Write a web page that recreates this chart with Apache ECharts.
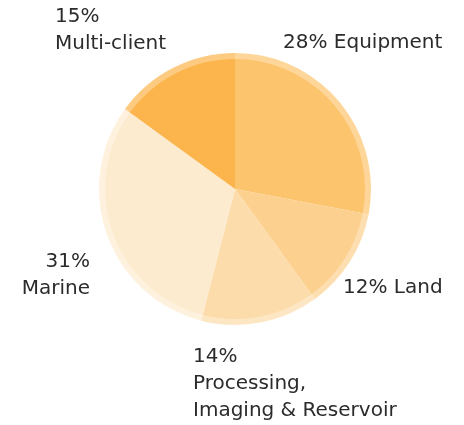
<!DOCTYPE html>
<html>
<head>
<meta charset="utf-8">
<script src="https://cdn.jsdelivr.net/npm/echarts@6/dist/echarts.min.js"></script>
<style>
  html, body { margin: 0; padding: 0; background: #fff; }
  #main { width: 464px; height: 425px; }
</style>
</head>
<body>
<div id="main"></div>
<script>
// segment names and shares (%)
const names = ['Equipment', 'Land', 'Processing,\nImaging & Reservoir', 'Marine', 'Multi-client'];
const shares = [28, 12, 14, 31, 15];
// label text pattern: inline or value on its own line
const inline = [true, true, false, false, false];

const colors = ['#fdc46e', '#fcd08e', '#fcdcaa', '#fdebd0', '#fbb54c'];

// where each label sits (left/right anchor, middle of block)
const labelSpots = [
  { x: 283, y: 43, align: 'left' },
  { x: 343, y: 288, align: 'left' },
  { x: 193, y: 384, align: 'left' },
  { x: 90, y: 275, align: 'right' },
  { x: 55, y: 30, align: 'left' }
];

const chart = echarts.init(document.getElementById('main'));

const pieData = names.map((n, i) => ({ name: n, value: shares[i], itemStyle: { color: colors[i] } }));

const option = {
  animation: false,
  series: [
    {
      type: 'pie',
      center: [235, 189],
      radius: [128, 136],
      startAngle: 90,
      silent: true,
      itemStyle: { opacity: 0.7 },
      label: { show: false },
      labelLine: { show: false },
      data: pieData
    },
    {
      type: 'pie',
      center: [235, 189],
      radius: [0, 130],
      startAngle: 90,
      silent: true,
      label: {
        show: true,
        position: 'outside',
        alignTo: 'none',
        overflow: 'none',
        width: 300,
        color: '#2b2b2b',
        fontFamily: 'DejaVu Sans',
        fontSize: 20,
        lineHeight: 27,
        formatter: p => inline[p.dataIndex] ? p.value + '% ' + p.name : p.value + '%\n' + p.name
      },
      labelLine: { show: false },
      labelLayout: p => {
        const s = labelSpots[p.dataIndex];
        return { x: s.x, y: s.y, align: s.align, verticalAlign: 'middle' };
      },
      data: pieData
    }
  ]
};

chart.setOption(option);
</script>
</body>
</html>
